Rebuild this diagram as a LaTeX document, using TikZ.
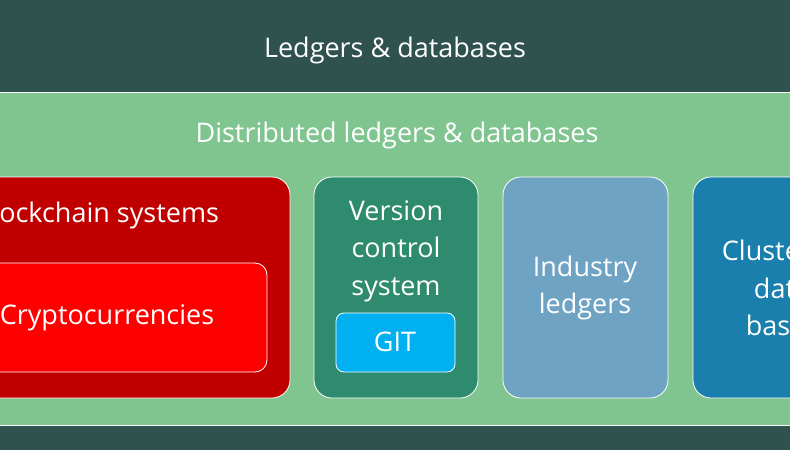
\documentclass[tikz,border=0pt]{standalone}
\usepackage{fontspec}
\setmainfont{Open Sans}
\definecolor{dark}{HTML}{2F524F}
\definecolor{lgreen}{HTML}{80C590}
\definecolor{dred}{HTML}{C00000}
\definecolor{bred}{HTML}{FF0000}
\definecolor{vgreen}{HTML}{2F8B6E}
\definecolor{gitblue}{HTML}{00B0F0}
\definecolor{indblue}{HTML}{6FA3C4}
\definecolor{clblue}{HTML}{1A7FAD}
\tikzset{
  box/.style={draw=white, line width=0.8pt, rounded corners=18pt},
  lbl/.style={text=white, font=\fontsize{27}{37.5}\selectfont, align=center, inner sep=0pt},
}
\begin{document}
\begin{tikzpicture}[x=1pt,y=-1pt]
\useasboundingbox (0,0) rectangle (790,450);
\clip (0,0) rectangle (790,450);
\fill[dark] (0,0) rectangle (790,450);
\fill[lgreen] (-5,92) rectangle (795,425);
\draw[white, line width=0.6pt] (-5,92) -- (795,92) (-5,425) -- (795,425);
\node[lbl] (top) at (395,50) {Ledgers \& databases};
\node[lbl] (dist) at (397,135) {Distributed ledgers \& databases};
% blockchain
\draw[box, fill=dred] (-60,177) rectangle (290,398);
\node[lbl] (bc) at (97,215) {Blockchain systems};
\draw[box, fill=bred, rounded corners=12pt] (-60,263) rectangle (267,372);
\node[lbl] (cc) at (107,318) {Cryptocurrencies};
% version control
\draw[box, fill=vgreen] (314,177) rectangle (478,398);
\node[lbl, text width=160pt] (vc) at (396,251) {Version\\control\\system};
\draw[box, fill=gitblue, rounded corners=8pt] (336,313) rectangle (455,372);
\node[lbl] (git) at (395,342) {GIT};
% industry
\draw[box, fill=indblue] (503,177) rectangle (668,398);
\node[lbl, text width=160pt] (ind) at (585,288) {Industry\\ledgers};
% cluster
\draw[box, fill=clblue] (693,177) rectangle (860,398);
\node[lbl, text width=160pt] (cl) at (782,288) {Clustered\\data\\bases};
\end{tikzpicture}
\end{document}
